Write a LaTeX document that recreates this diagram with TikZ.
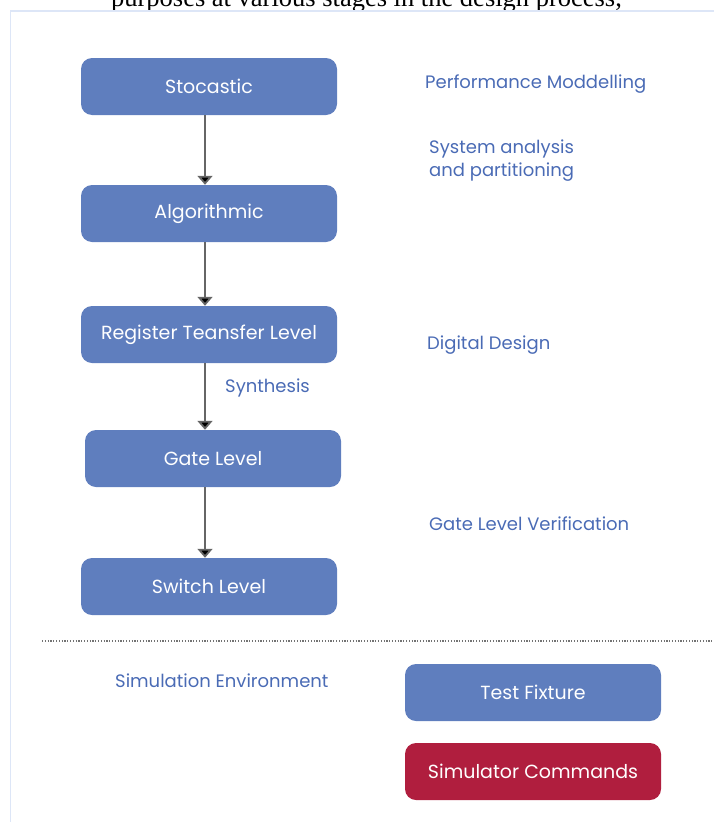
\documentclass[tikz,border=0pt]{standalone}
\usepackage{fontspec}
\setmainfont{Poppins}
\newfontfamily\capfont{Liberation Serif}
\usetikzlibrary{arrows.meta,positioning}

\definecolor{boxblue}{HTML}{5F7EBE}
\definecolor{boxred}{HTML}{B01E3E}
\definecolor{lblblue}{HTML}{4A6BB5}
\definecolor{framecol}{HTML}{DDE6F7}

\begin{document}
\begin{tikzpicture}[x=1pt, y=-1pt,
    box/.style={draw=none, rounded corners=11pt, minimum width=256pt, minimum height=57pt, align=center, font=\fontsize{19}{22}\selectfont, text=white, fill=boxblue},
    redbox/.style={box, fill=boxred},
    arr/.style={-{Triangle[length=9pt, width=15pt, fill=black]}, line width=1.8pt, black!60},
    lbl/.style={font=\fontsize{18}{23}\selectfont, text=lblblue, anchor=west, align=left, inner sep=0pt}
]
\clip (0,0) rectangle (714,822);
% page text cut off above the figure
\node[font=\capfont\fontsize{26.5}{30}\selectfont, anchor=base] (caption) at (366.5,6) {purposes at various stages in the design process,};
\draw[framecol, line width=1.2pt] (10.5,830) |- (720,11);

\node[box] (stoc) at (209,86.5) {Stocastic};
\node[box] (algo) at (209,213.5) {Algorithmic};
\node[box] (rtl) at (209,334.5) {Register Teansfer Level};
\node[box] (gate) at (213,458.5) {Gate Level};
\node[box] (switch) at (209,586.5) {Switch Level};
\node[box] (fixture) at (533,692.5) {Test Fixture};
\node[redbox] (simcmd) at (533,771.5) {Simulator Commands};

\node[lbl] (perf) at (425,84) {Performance Moddelling};
\node[lbl] (sysan) at (429,160.5) {System analysis\\and partitioning};
\node[lbl] (digdes) at (427,345) {Digital Design};
\node[lbl] (synth) at (225,388) {Synthesis};
\node[lbl] (glver) at (429,524) {Gate Level Verification};
\node[lbl] (simenv) at (115,681) {Simulation Environment};

\draw[arr] (stoc.south -| 205,0) -- (algo.north -| 205,0);
\draw[arr] (algo.south -| 205,0) -- (rtl.north -| 205,0);
\draw[arr] (rtl.south -| 205,0) -- (gate.north -| 205,0);
\draw[arr] (gate.south -| 205,0) -- (switch.north -| 205,0);

% separator
\coordinate (sepl) at (42,641);
\coordinate (sepr) at (714,641);
\draw[black!55, line width=1.3pt, dash pattern=on 1.2pt off 1.6pt] (sepl) -- (sepr);
\end{tikzpicture}
\end{document}
